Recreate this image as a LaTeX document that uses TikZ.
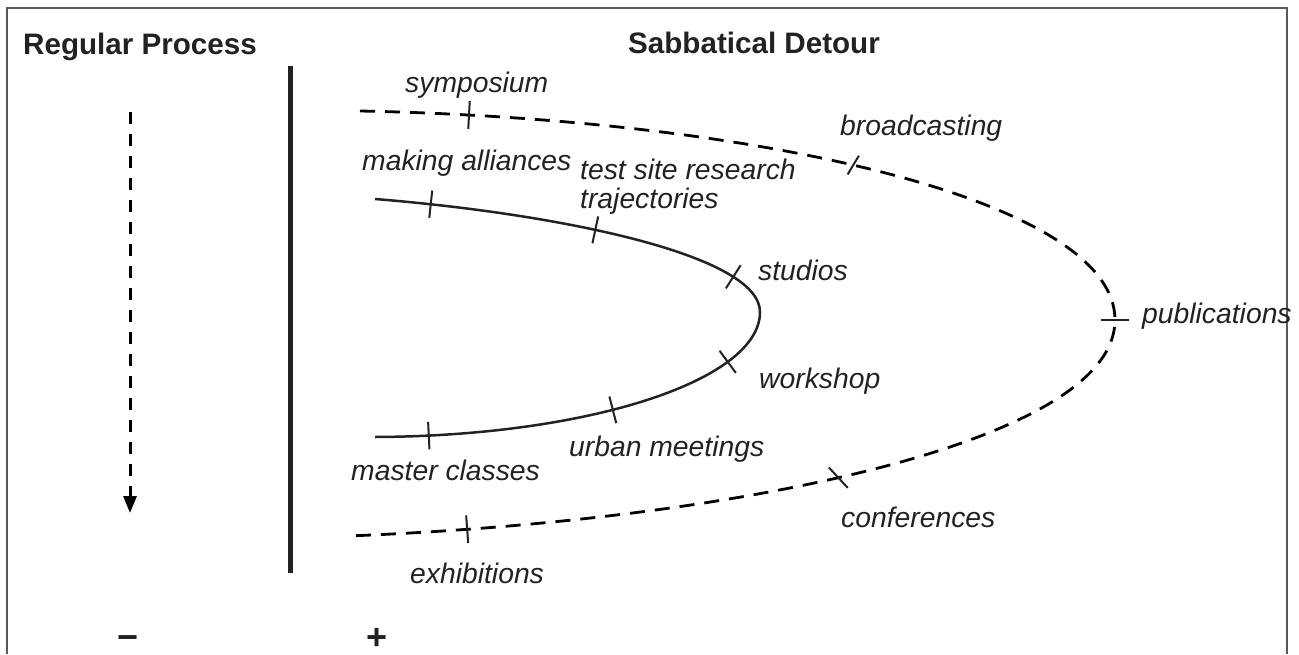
\documentclass[tikz,border=0pt]{standalone}
\usepackage{fontspec}
\setmainfont{Liberation Sans}
\usepackage{xcolor}
\usetikzlibrary{arrows.meta}
\definecolor{inkgray}{HTML}{222222}
\definecolor{framegray}{HTML}{5A5A5A}

\begin{document}
\begin{tikzpicture}[x=1pt, y=-1pt,
    heading/.style={font=\fontsize{29.6}{34}\selectfont\bfseries, text=inkgray, inner sep=0pt, anchor=base west},
    stage/.style={font=\fontsize{28.3}{34}\selectfont\itshape, text=inkgray, inner sep=0pt, anchor=base west},
    sign/.style={font=\fontsize{36}{40}\selectfont\bfseries, text=inkgray, inner sep=0pt, anchor=base},
    tickmark/.style={sloped, inner sep=0pt, minimum width=0pt, minimum height=25pt},
    tickline/.style={line width=2pt, draw=inkgray},
    detour/.style={line width=2.8pt, dash pattern=on 15pt off 10pt, draw=black},
    loop/.style={line width=2.5pt, draw=inkgray}]
    \useasboundingbox (0,0) rectangle (1299,654);

    % Frame (open at the bottom)
    \draw[framegray, line width=2pt] (7,654) -- (7,8) -- (1287,8) -- (1287,654);

    % Headings
    \node[heading] (regular) at (23,54) {Regular Process};
    \node[heading] (sabbatical) at (628,53) {Sabbatical Detour};

    % Regular process: straight dashed flow
    \coordinate (flowtop) at (130,112);
    \coordinate (flowend) at (130,513);
    \draw[line width=3pt, dash pattern=on 12pt off 10pt, -{Triangle[length=17pt,width=13pt]}] (flowtop) -- (flowend);

    % Divider
    \draw[line width=5pt, inkgray] (290,66) -- (290,573);

    % Outer detour (dashed)
    \coordinate (outerstart) at (360,111);
    \coordinate (outertip) at (1115,320);
    \coordinate (outerend) at (348,536);
    \draw[detour] (outerstart) .. controls (760,119) and (1115,200) .. (outertip)
        node[tickmark, pos=0.092] (symtick) {}
        node[tickmark, pos=0.46, rotate=-18, minimum height=19pt] (broadtick) {}
        node[tickmark, pos=1] (pubtick) {}
        .. controls (1115,440) and (750,520) .. (outerend)
        node[tickmark, pos=0.55, rotate=30] (conftick) {}
        node[tickmark, pos=0.9] (exhtick) {};

    % Inner detour (solid)
    \coordinate (innerstart) at (375,199);
    \coordinate (innertip) at (760,312);
    \coordinate (innerend) at (375,437);
    \draw[loop] (innerstart) .. controls (560,214) and (760,255) .. (innertip)
        node[tickmark, pos=0.1] (alltick) {}
        node[tickmark, pos=0.41] (trajtick) {}
        node[tickmark, pos=0.78] (studtick) {}
        .. controls (760,380) and (590,436) .. (innerend)
        node[tickmark, pos=0.26] (worktick) {}
        node[tickmark, pos=0.58] (urbtick) {}
        node[tickmark, pos=0.915] (mastick) {};

    % Ticks
    \foreach \t in {symtick,broadtick,pubtick,conftick,exhtick,alltick,trajtick,studtick,worktick,urbtick,mastick}
        \draw[tickline] (\t.north) -- (\t.south);

    % Labels
    \node[stage] (symposium) at (405,92) {symposium};
    \node[stage] (broadcasting) at (840,135) {broadcasting};
    \node[stage] (alliances) at (362,170) {making alliances};
    \node[stage] (testsite) at (580,179) {test site research};
    \node[stage] (trajectories) at (580,208) {trajectories};
    \node[stage] (studios) at (758,280) {studios};
    \node[stage] (publications) at (1142,323) {publications};
    \node[stage] (workshop) at (759,388) {workshop};
    \node[stage] (urban) at (569,456) {urban meetings};
    \node[stage] (master) at (351,480) {master classes};
    \node[stage] (conferences) at (841,527) {conferences};
    \node[stage] (exhibitions) at (410,583) {exhibitions};

    % Scale signs
    \node[sign] (less) at (128,649) {−};
    \node[sign] (more) at (377,649) {+};
\end{tikzpicture}
\end{document}
